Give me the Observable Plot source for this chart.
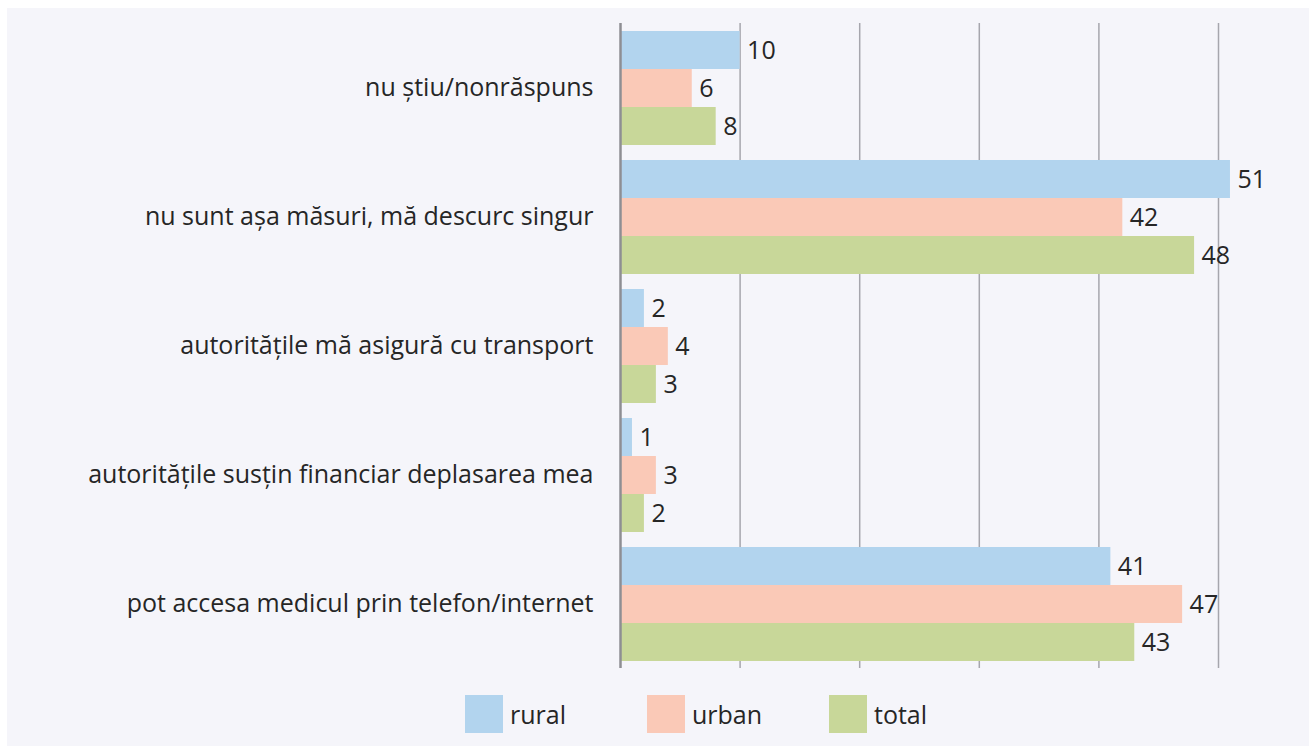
<!DOCTYPE html>
<html>
<head>
<meta charset="utf-8">
<script src="https://cdn.jsdelivr.net/npm/d3@7"></script>
<script src="https://cdn.jsdelivr.net/npm/@observablehq/plot@0.6"></script>
<style>
  html, body { margin: 0; padding: 0; background: #ffffff; }
  #panel { position: absolute; left: 7px; top: 8px; width: 1302px; height: 738px; background: #f5f5fa; overflow: hidden; }
  #legend { display: flex; justify-content: flex-start; margin-top: 20px; padding-left: 458px; font-family: "Open Sans", sans-serif; font-size: 25px; color: #262626; }
  .item { display: flex; align-items: center; width: 182px; }
  .sw { width: 38px; height: 38px; margin-right: 7px; }
</style>
</head>
<body>
<div id="panel"><div id="chart"></div><div id="legend"></div></div>
<script>
const categories = [
  "nu știu/nonrăspuns",
  "nu sunt așa măsuri, mă descurc singur",
  "autoritățile mă asigură cu transport",
  "autoritățile susțin financiar deplasarea mea",
  "pot accesa medicul prin telefon/internet"
];
const series = ["rural", "urban", "total"];
const rural = [10, 51, 2, 1, 41];
const urban = [6, 42, 4, 3, 47];
const total = [8, 48, 3, 2, 43];
const xTicks = [0, 10, 20, 30, 40, 50];
const colors = ["#b2d4ee", "#fac9b7", "#c8d799"];

const valuesBySeries = {rural, urban, total};
const data = [];
categories.forEach((c, i) => {
  series.forEach(s => data.push({category: c, series: s, value: valuesBySeries[s][i]}));
});

const chart = Plot.plot({
  width: 1302,
  height: 667,
  marginLeft: 613,
  marginRight: 91,
  marginTop: 13,
  marginBottom: 6,
  style: {background: "transparent", fontFamily: "Open Sans, sans-serif", fontSize: "25px", color: "#262626"},
  x: {domain: [0, 50], axis: null},
  y: {domain: series, axis: null, paddingInner: 0, paddingOuter: 0.19},
  fy: {domain: categories, padding: 0, axis: "left", label: null, tickSize: 0, tickPadding: 27},
  color: {domain: series, range: colors},
  marks: [
    Plot.ruleX(xTicks.filter(d => d > 0), {x: d => d, stroke: "#a6a6ad", strokeWidth: 1.5}),
    Plot.barX(data, {x: "value", y: "series", fy: "category", fill: "series", inset: 0}),
    Plot.text(data, {x: "value", y: "series", fy: "category", text: d => String(d.value), textAnchor: "start", dx: 7, fill: "#262626"}),
    Plot.ruleX([0], {x: d => d, stroke: "#8e8e93", strokeWidth: 2.5})
  ]
});
document.getElementById("chart").appendChild(chart);

const legend = document.getElementById("legend");
series.forEach((s, i) => {
  const item = document.createElement("div");
  item.className = "item";
  const sw = document.createElement("div");
  sw.className = "sw";
  sw.style.background = colors[i];
  const t = document.createElement("span");
  t.textContent = s;
  item.appendChild(sw);
  item.appendChild(t);
  legend.appendChild(item);
});
</script>
</body>
</html>
